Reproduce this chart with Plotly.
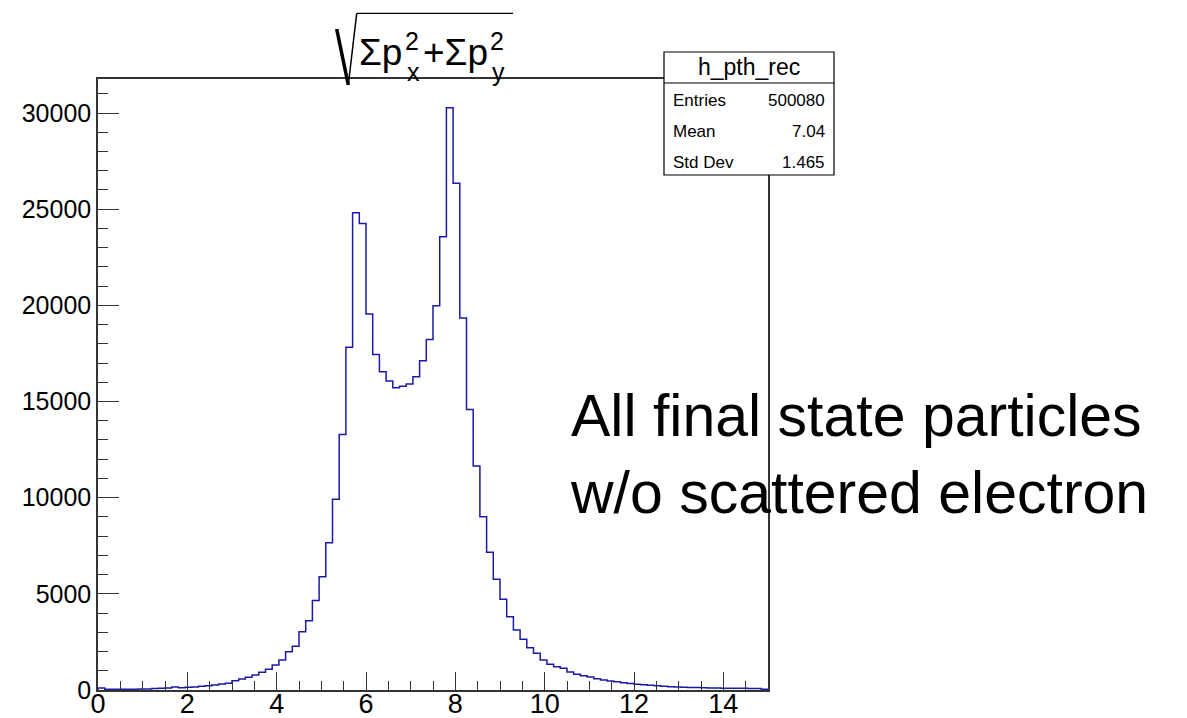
import numpy as np
import plotly.graph_objects as go

# ---- data ----
x_min, x_max, n_bins = 0.0, 15.0, 100
counts = [
    100, 40, 40, 40, 45, 45, 50, 50, 80, 90,
    100, 150, 120, 140, 160, 200, 220, 260, 310, 350,
    480, 570, 660, 780, 920, 1075, 1300, 1560, 1990, 2270,
    3030, 3600, 4650, 5890, 7660, 9920, 13290, 17820, 24820, 24250,
    19550, 17450, 16550, 16070, 15720, 15790, 15910, 16290, 17120, 18230,
    19980, 23570, 30280, 26350, 19340, 14590, 11650, 9010, 7160, 5755,
    4715, 3810, 3120, 2635, 2200, 1905, 1560, 1335, 1210, 1125,
    936, 815, 745, 675, 590, 520, 470, 430, 380, 340,
    300, 270, 250, 220, 190, 175, 160, 145, 135, 125,
    115, 108, 100, 95, 90, 88, 85, 82, 80, 40,
]
hist_name = "h_pth_rec"
stats_labels = ["Entries", "Mean", "Std Dev"]
stats_values = ["500080", "7.04", "1.465"]
y_ticks = [0, 5000, 10000, 15000, 20000, 25000, 30000]
x_ticks = [0, 2, 4, 6, 8, 10, 12, 14]
note_text = "All final state particles<br>w/o scattered electron"

edges = np.linspace(x_min, x_max, n_bins + 1)
xs = [edges[0]] + list(edges)
ys = [0] + counts + [0]

# ---- layout geometry in pixels ----
W, H = 1187, 718
L, R, T, B = 98, 768, 79, 690
pw, ph = R - L, B - T


def px(x):
    return (x - L) / pw


def py(y):
    return (B - y) / ph


FONT = "Liberation Sans, Arial, Helvetica, sans-serif"

fig = go.Figure()
fig.add_trace(go.Scatter(
    x=xs, y=ys, mode="lines", line=dict(shape="hv", color="#1a1aa6", width=1.5),
    hoverinfo="skip", showlegend=False,
))

ymax = 31770

fig.update_layout(
    width=W, height=H,
    margin=dict(l=L, r=W - R, t=T, b=H - B, pad=0, autoexpand=False),
    paper_bgcolor="white", plot_bgcolor="white",
    font=dict(family=FONT, color="black"),
    showlegend=False,
    xaxis=dict(
        range=[x_min, x_max], tickvals=x_ticks, ticks="inside", ticklen=18,
        tickcolor="#333", tickwidth=1.2, showline=True, linecolor="#333",
        linewidth=1.5, mirror=True, showgrid=False, zeroline=False,
        automargin=False, ticklabelstandoff=-11,
        tickfont=dict(size=27, color="black", family=FONT),
        minor=dict(dtick=0.5, ticks="inside", ticklen=9, tickcolor="#333",
                   tickwidth=1.2, showgrid=False),
        fixedrange=True,
    ),
    yaxis=dict(
        range=[0, ymax], tickvals=y_ticks, tickformat="d", ticks="inside",
        ticklen=21, tickcolor="#333", tickwidth=1.2, showline=True,
        linecolor="#333", linewidth=1.5, mirror=True, showgrid=False,
        zeroline=False, ticklabelstandoff=0, automargin=False,
        tickfont=dict(size=25, color="black", family=FONT),
        minor=dict(dtick=1000, ticks="inside", ticklen=10, tickcolor="#333",
                   tickwidth=1.2, showgrid=False),
        fixedrange=True,
    ),
)

shapes = []
annots = []

# ---- title: sqrt(Σp_x^2 + Σp_y^2) ----
rad = [(336.7, 29), (348.3, 85), (356.7, 13.3), (513, 13.3)]
for (x0, y0), (x1, y1), w in zip(rad[:-1], rad[1:], [3.5, 1.5, 1.2]):
    shapes.append(dict(type="line", xref="paper", yref="paper",
                       x0=px(x0), y0=py(y0), x1=px(x1), y1=py(y1),
                       line=dict(color="black", width=w), layer="above"))


def txt(s, x, y, size, xanchor="left", yanchor="middle", **kw):
    annots.append(dict(text=s, x=px(x), y=py(y), xref="paper", yref="paper",
                       showarrow=False, xanchor=xanchor, yanchor=yanchor,
                       font=dict(size=size, family=FONT, color="black"), **kw))


txt("Σp", 357, 52, 37)
txt("2", 403, 41, 25)
txt("x", 405, 72, 25)
txt("+Σp", 421, 52, 37)
txt("2", 488, 41, 25)
txt("y", 490, 72, 25)

# ---- stats box ----
bx0, bx1, by0, by1, bsep = 664, 834, 52, 175, 83
shapes.append(dict(type="rect", xref="paper", yref="paper",
                   x0=px(bx0), x1=px(bx1), y0=py(by1), y1=py(by0),
                   fillcolor="white", line=dict(color="black", width=1.2),
                   layer="above"))
shapes.append(dict(type="line", xref="paper", yref="paper",
                   x0=px(bx0), x1=px(bx1), y0=py(bsep), y1=py(bsep),
                   line=dict(color="black", width=1.2), layer="above"))
txt(hist_name, (bx0 + bx1) / 2, 67.5, 23, xanchor="center")
for i, (lab, val) in enumerate(zip(stats_labels, stats_values)):
    yy = 100 + i * 31
    txt(lab, 671, yy, 17)
    txt(val, 827, yy, 17, xanchor="right")

# ---- note text ----
annots.append(dict(text=note_text, x=px(568), y=py(454), xref="paper",
                   yref="paper", showarrow=False, xanchor="left",
                   yanchor="middle", align="left",
                   font=dict(size=59, family=FONT, color="black")))

fig.update_layout(shapes=shapes, annotations=annots)
fig.write_html("out.html")
